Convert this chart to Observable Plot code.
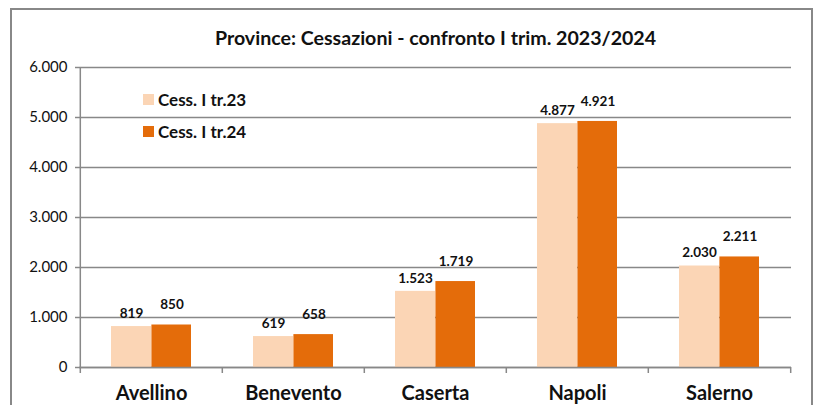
<!DOCTYPE html>
<html>
<head>
<meta charset="utf-8">
<script src="https://cdn.jsdelivr.net/npm/d3@7"></script>
<script src="https://cdn.jsdelivr.net/npm/@observablehq/plot@0.6"></script>
<style>
  html, body { margin: 0; padding: 0; background: #fff; }
  #wrap { position: relative; width: 819px; height: 405px; overflow: hidden; font-family: Lato, "Open Sans", sans-serif; }
  #border { position: absolute; left: 10px; top: 8px; width: 803px; height: 420px; border: 2px solid #888; box-sizing: border-box; }
  .leg { position: absolute; left: 143px; font-weight: bold; font-size: 17px; color: #111; line-height: 17px; }
  .leg span.sw { position: absolute; left: 0; top: 1px; width: 11px; height: 11px; }
  .leg span.t { position: absolute; left: 15px; top: -2px; white-space: nowrap; }
</style>
</head>
<body>
<div id="wrap"><div id="border"></div></div>
<script>
const title = "Province: Cessazioni - confronto I trim. 2023/2024";
const provinces = ["Avellino", "Benevento", "Caserta", "Napoli", "Salerno"];
const cess23 = [819, 619, 1523, 4877, 2030];
const cess24 = [850, 658, 1719, 4921, 2211];
const seriesNames = ["Cess. I tr.23", "Cess. I tr.24"];
const yTicks = [0, 1000, 2000, 3000, 4000, 5000, 6000];

const colors = ["#FBD5B5", "#E46C0A"];
const gridColor = "#888888";
const itFmt = d3.formatLocale({decimal: ",", thousands: ".", grouping: [3], currency: ["€", ""]}).format(",d");

const data23 = provinces.map((p, i) => ({province: p, value: cess23[i]}));
const data24 = provinces.map((p, i) => ({province: p, value: cess24[i]}));

const W = 819, H = 405, mL = 79, mR = 28, mT = 67, mB = 38;
const bw = (W - mL - mR) / provinces.length;
const half = bw / 2;

const chart = Plot.plot({
  width: W,
  height: H,
  marginLeft: mL,
  marginRight: mR,
  marginTop: mT,
  marginBottom: mB,
  style: {fontFamily: "Lato, 'Open Sans', sans-serif", color: "#111", background: "transparent"},
  x: {domain: provinces, padding: 0},
  y: {domain: [0, 6000]},
  marks: [
    Plot.ruleY(yTicks, {stroke: gridColor, strokeWidth: 1.5}),
    Plot.axisY({ticks: yTicks, tickFormat: itFmt, tickSize: 4, tickPadding: 8, stroke: gridColor, strokeWidth: 1.5, fontSize: 15, fill: "#111", strokeOpacity: 1, label: null}),
    Plot.ruleX([provinces[0]], {x: d => d, dx: -half, stroke: gridColor, strokeWidth: 1.5, insetBottom: -6}),
    Plot.ruleX(provinces.slice(1), {x: d => d, dx: -half, stroke: gridColor, strokeWidth: 1.5, insetTop: 300, insetBottom: -6}),
    Plot.ruleX([provinces[provinces.length - 1]], {x: d => d, dx: half, stroke: gridColor, strokeWidth: 1.5, insetTop: 300, insetBottom: -6}),
    Plot.barY(data23, {x: "province", y: "value", fill: colors[0], insetLeft: 31, insetRight: bw - 71.4}),
    Plot.barY(data24, {x: "province", y: "value", fill: colors[1], insetLeft: 71.4, insetRight: bw - 111.4}),
    Plot.ruleY([0], {stroke: gridColor, strokeWidth: 1.5}),
    Plot.text(data23, {x: "province", y: "value", text: d => itFmt(d.value), dx: -20, dy: -13, fontWeight: "bold", fontSize: 13.5, fill: "#111"}),
    Plot.text(data24, {x: "province", y: "value", text: d => itFmt(d.value), dx: 20.5, dy: -20, fontWeight: "bold", fontSize: 13.5, fill: "#111"}),
    Plot.axisX({tickSize: 0, tickPadding: 18, fontSize: 20, fontWeight: "bold", fill: "#111", label: null}),
    Plot.text([title], {frameAnchor: "top", lineAnchor: "middle", dy: -29, fontWeight: "bold", fontSize: 19.6, fill: "#111"})
  ]
});

const wrap = document.getElementById("wrap");
chart.style.position = "absolute";
chart.style.left = "0px";
chart.style.top = "0px";
wrap.appendChild(chart);

const legTops = [93, 125];
seriesNames.forEach((name, i) => {
  const d = document.createElement("div");
  d.className = "leg";
  d.style.top = legTops[i] + "px";
  d.innerHTML = `<span class="sw" style="background:${colors[i]}"></span><span class="t"></span>`;
  d.querySelector(".t").textContent = name;
  wrap.appendChild(d);
});
</script>
</body>
</html>
